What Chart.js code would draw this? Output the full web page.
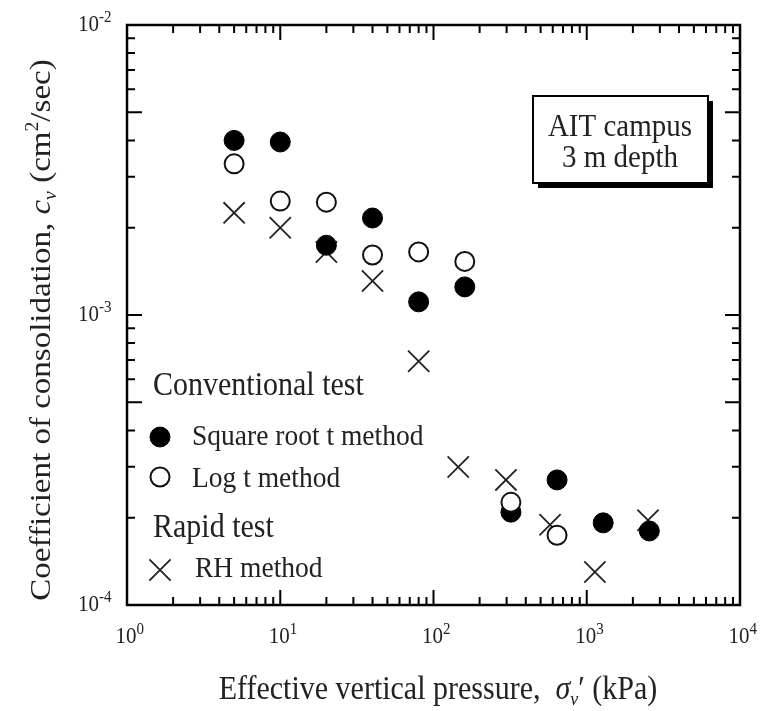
<!DOCTYPE html>
<html>
<head>
<meta charset="utf-8">
<script src="https://cdn.jsdelivr.net/npm/chart.js@4.4.1/dist/chart.umd.min.js"></script>
<style>
  html, body { margin: 0; padding: 0; background: #fff; }
  #wrap { width: 765px; height: 711px; }
</style>
</head>
<body>
<div id="wrap"><canvas id="cv" width="765" height="711"></canvas></div>
<script>
// =========================
// DATA
// =========================
const pressures = [5, 10, 20, 40, 80, 160, 320, 640, 1280, 2560];
const sqrtT = [4.0e-3, 3.95e-3, 1.74e-3, 2.16e-3, 1.11e-3, 1.25e-3, 2.09e-4, 2.70e-4, 1.92e-4, 1.80e-4];
const logT = [3.32e-3, 2.47e-3, 2.45e-3, 1.61e-3, 1.65e-3, 1.53e-3, 2.26e-4, 1.74e-4];
const rhPressures = [5, 10, 20, 40, 80, 145, 297, 576, 1130, 2510];
const rhMethod = [2.25e-3, 2.0e-3, 1.65e-3, 1.31e-3, 6.93e-4, 2.99e-4, 2.70e-4, 1.89e-4, 1.30e-4, 1.96e-4];

const xExps = [0, 1, 2, 3, 4];
const yExps = [-4, -3, -2];

const legendHeads = ["Conventional test", "Rapid test"];
const legendLabels = ["Square root t method", "Log t method", "RH method"];
const boxLines = ["AIT campus", "3 m depth"];

const FONT = '"Liberation Serif", "Times New Roman", serif';
const SY = 1.1;   // the original figure is a bit taller than wide

function pts(xs, ys) {
    return ys.map((y, i) => ({ x: xs[i], y: y }));
}

// =========================
// TEXT HELPERS
// =========================
function text(ctx, s, x, y, size, align, italic) {
    ctx.save();
    ctx.font = (italic ? "italic " : "") + size + "px " + FONT;
    ctx.textAlign = align || "left";
    ctx.textBaseline = "alphabetic";
    ctx.translate(x, y);
    ctx.scale(1, SY);
    ctx.fillText(s, 0, 0);
    ctx.restore();
}

// segments: {t, size, italic, dy}
function richWidth(ctx, segs) {
    let w = 0;
    for (const s of segs) {
        ctx.font = (s.italic ? "italic " : "") + s.size + "px " + FONT;
        w += ctx.measureText(s.t).width;
    }
    return w;
}

function rich(ctx, segs, x, y) {
    let cx = x;
    for (const s of segs) {
        ctx.font = (s.italic ? "italic " : "") + s.size + "px " + FONT;
        ctx.textAlign = "left";
        ctx.textBaseline = "alphabetic";
        ctx.fillText(s.t, cx, y + (s.dy || 0));
        cx += ctx.measureText(s.t).width;
    }
}

function powLabel(ctx, exp, x, y, anchor) {
    // "10" with a raised exponent
    ctx.save();
    ctx.fillStyle = "#222";
    ctx.font = "21px " + FONT;
    const wb = ctx.measureText("10").width;
    const e = exp < 0 ? "-" + (-exp) : String(exp);
    let bx = anchor === "right" ? x - wb : x - wb / 2 - 1;
    ctx.translate(0, y);
    ctx.scale(1, SY);
    ctx.textBaseline = "middle";
    ctx.textAlign = "left";
    ctx.fillText("10", bx, 0);
    ctx.font = "15px " + FONT;
    ctx.fillText(e, bx + wb, -7);
    ctx.restore();
}

// =========================
// FRAME / TICKS / ANNOTATIONS
// =========================
const framePlugin = {
    id: "frame",
    afterDatasetsDraw(chart) {
        const ctx = chart.ctx;
        const a = chart.chartArea;
        const xs = chart.scales.x;
        const ys = chart.scales.y;

        ctx.save();
        ctx.strokeStyle = "#000";
        ctx.lineWidth = 2.5;
        ctx.strokeRect(a.left, a.top, a.right - a.left, a.bottom - a.top);

        ctx.lineWidth = 2;
        ctx.beginPath();
        // x ticks, bottom and top, pointing inward
        for (let e = xExps[0]; e < xExps[xExps.length - 1]; e++) {
            for (let m = 1; m <= 9; m++) {
                if (m === 1 && e === xExps[0]) continue;
                const px = xs.getPixelForValue(m * Math.pow(10, e));
                const len = m === 1 ? 15 : 8;
                ctx.moveTo(px, a.bottom); ctx.lineTo(px, a.bottom - len);
                ctx.moveTo(px, a.top); ctx.lineTo(px, a.top + len);
            }
        }
        // y ticks, left and right
        for (let e = yExps[0]; e < yExps[yExps.length - 1]; e++) {
            for (let m = 1; m <= 9; m++) {
                if (m === 1 && e === yExps[0]) continue;
                const py = ys.getPixelForValue(m * Math.pow(10, e));
                const len = (m === 1 || m === 5) ? 15 : 8;
                ctx.moveTo(a.left, py); ctx.lineTo(a.left + len, py);
                ctx.moveTo(a.right, py); ctx.lineTo(a.right - len, py);
            }
        }
        ctx.stroke();

        // tick labels
        xExps.forEach(e => powLabel(ctx, e, xs.getPixelForValue(Math.pow(10, e)), 637, "center"));
        yExps.forEach(e => powLabel(ctx, e, 99, ys.getPixelForValue(Math.pow(10, e)), "right"));

        ctx.fillStyle = "#222";

        // x title
        const xt = [
            { t: "Effective vertical pressure,  ", size: 30 },
            { t: "\u03C3", size: 30, italic: true },
            { t: "v", size: 18, italic: true, dy: 5 },
            { t: "\u2032 (kPa)", size: 30 }
        ];
        ctx.save();
        ctx.translate(0, 699);
        ctx.scale(1, SY);
        rich(ctx, xt, 438 - richWidth(ctx, xt) / 2, 0);
        ctx.restore();

        // y title
        const yt = [
            { t: "Coefficient of consolidation, ", size: 30 },
            { t: "c", size: 30, italic: true },
            { t: "v", size: 18, italic: true, dy: 6 },
            { t: " (cm", size: 30 },
            { t: "2", size: 18, dy: -12 },
            { t: "/sec)", size: 30 }
        ];
        ctx.save();
        ctx.translate(50, 330);
        ctx.rotate(-Math.PI / 2);
        ctx.scale(SY, 1);
        rich(ctx, yt, -richWidth(ctx, yt) / 2, 0);
        ctx.restore();

        // legend
        const ds = chart.data.datasets;
        text(ctx, legendHeads[0], 153, 395, 30);
        text(ctx, legendHeads[1], 153, 537, 30);
        const rows = [[ds[1], 437, 445], [ds[0], 477, 487], [ds[2], 570, 577]];
        rows.forEach((r, i) => {
            const d = r[0];
            ctx.save();
            ctx.fillStyle = d.backgroundColor;
            ctx.strokeStyle = d.borderColor;
            ctx.lineWidth = d.borderWidth;
            Chart.helpers.drawPoint(ctx, { pointStyle: d.pointStyle, radius: d.pointRadius, rotation: 0, borderWidth: d.borderWidth }, 160, r[1]);
            ctx.restore();
            text(ctx, legendLabels[i], i === 2 ? 195 : 192, r[2], 27.5);
        });

        // annotation box with shadow
        ctx.fillStyle = "#000";
        ctx.fillRect(538, 101, 175, 87);
        ctx.fillStyle = "#fff";
        ctx.fillRect(533, 96, 175, 87);
        ctx.lineWidth = 2;
        ctx.strokeRect(533, 96, 175, 87);
        ctx.fillStyle = "#222";
        text(ctx, boxLines[0], 620, 136, 29, "center");
        text(ctx, boxLines[1], 620, 167, 29, "center");

        ctx.restore();
    }
};

// =========================
// CHART
// =========================
new Chart(document.getElementById("cv"), {
    type: "scatter",
    data: {
        datasets: [
            {
                label: legendLabels[1],
                data: pts(pressures, logT),
                pointStyle: "circle", pointRadius: 9.5, pointHoverRadius: 9.5,
                backgroundColor: "#fff", borderColor: "#111", borderWidth: 2
            },
            {
                label: legendLabels[0],
                data: pts(pressures, sqrtT),
                pointStyle: "circle", pointRadius: 10, pointHoverRadius: 10,
                backgroundColor: "#000", borderColor: "#000", borderWidth: 1
            },
            {
                label: legendLabels[2],
                data: pts(rhPressures, rhMethod),
                pointStyle: "crossRot", pointRadius: 15, pointHoverRadius: 15,
                backgroundColor: "#222", borderColor: "#222", borderWidth: 1.8
            }
        ]
    },
    options: {
        responsive: false,
        animation: false,
        events: [],
        layout: { padding: { left: 127, right: 25, top: 25, bottom: 106 } },
        plugins: { legend: { display: false }, tooltip: { enabled: false } },
        scales: {
            x: { type: "logarithmic", min: 1, max: 10000, display: false },
            y: { type: "logarithmic", min: 1e-4, max: 1e-2, display: false }
        }
    },
    plugins: [framePlugin]
});
</script>
</body>
</html>
